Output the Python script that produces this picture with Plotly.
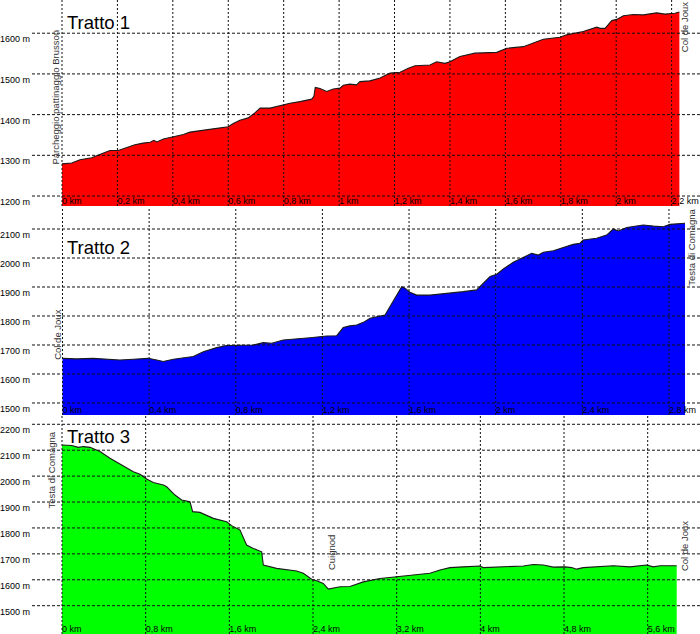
import plotly.graph_objects as go

# ---------------- data ----------------
km1 = [0, 0.035, 0.065, 0.107, 0.143, 0.173, 0.203, 0.239, 0.263, 0.293, 0.318, 0.332, 0.342, 0.366, 0.402,
       0.438, 0.462, 0.498, 0.546, 0.600, 0.618, 0.642, 0.672, 0.697, 0.715, 0.751, 0.787, 0.823, 0.859, 0.901,
       0.909, 0.914, 0.931, 0.955, 0.979, 1.003, 1.015, 1.039, 1.063, 1.075, 1.111, 1.148, 1.184, 1.220, 1.250,
       1.274, 1.328, 1.352, 1.382, 1.400, 1.436, 1.490, 1.569, 1.605, 1.665, 1.701, 1.737, 1.797, 1.821, 1.881,
       1.930, 1.942, 1.960, 1.984, 2.002, 2.026, 2.062, 2.098, 2.146, 2.176, 2.212, 2.228]
ele1 = [1279, 1281, 1289, 1294, 1304, 1312, 1312, 1320, 1326, 1330, 1332, 1337, 1333, 1340, 1346,
        1351, 1357, 1361, 1365, 1370, 1378, 1386, 1392, 1405, 1416, 1416, 1422, 1428, 1432, 1438,
        1445, 1467, 1464, 1457, 1463, 1465, 1472, 1475, 1473, 1481, 1483, 1490, 1502, 1504, 1514,
        1520, 1522, 1530, 1526, 1530, 1543, 1551, 1553, 1563, 1567, 1577, 1585, 1590, 1596, 1604,
        1615, 1612, 1612, 1631, 1634, 1643, 1646, 1645, 1650, 1647, 1649, 1652]

km2 = [0, 0.065, 0.142, 0.204, 0.265, 0.327, 0.396, 0.435, 0.465, 0.512, 0.558, 0.604, 0.650, 0.712, 0.758,
       0.820, 0.881, 0.927, 0.966, 1.019, 1.081, 1.143, 1.220, 1.266, 1.296, 1.327, 1.358, 1.389, 1.420, 1.451,
       1.489, 1.566, 1.581, 1.604, 1.635, 1.697, 1.789, 1.850, 1.912, 1.943, 1.974, 2.005, 2.035, 2.081, 2.127,
       2.166, 2.197, 2.220, 2.266, 2.312, 2.358, 2.389, 2.404, 2.466, 2.512, 2.543, 2.566, 2.605, 2.681, 2.728,
       2.774, 2.805, 2.874]
ele2 = [1654, 1652, 1654, 1652, 1648, 1651, 1654, 1648, 1643, 1651, 1656, 1660, 1677, 1691, 1698,
        1700, 1700, 1708, 1706, 1717, 1720, 1725, 1731, 1732, 1760, 1766, 1769, 1778, 1792, 1798,
        1803, 1901, 1896, 1882, 1872, 1872, 1878, 1884, 1890, 1913, 1936, 1944, 1962, 1985, 2002,
        2016, 2010, 2020, 2025, 2036, 2047, 2051, 2062, 2068, 2079, 2100, 2093, 2105, 2114, 2110,
        2108, 2116, 2120]

km3 = [0, 0.092, 0.156, 0.204, 0.268, 0.363, 0.459, 0.554, 0.682, 0.746, 0.809, 0.873, 0.969, 1.001, 1.080,
       1.144, 1.224, 1.249, 1.319, 1.447, 1.574, 1.622, 1.702, 1.765, 1.829, 1.909, 1.925, 2.052, 2.148, 2.243,
       2.307, 2.387, 2.435, 2.498, 2.546, 2.594, 2.658, 2.753, 2.881, 3.040, 3.200, 3.327, 3.518, 3.614, 3.710,
       3.837, 3.996, 4.028, 4.187, 4.315, 4.411, 4.506, 4.602, 4.698, 4.809, 4.873, 4.920, 4.984, 5.112, 5.271,
       5.430, 5.590, 5.654, 5.717, 5.877]
ele3 = [2120, 2118, 2111, 2114, 2111, 2095, 2069, 2046, 2017, 2007, 1989, 1975, 1966, 1959, 1927,
        1908, 1901, 1863, 1860, 1837, 1824, 1809, 1792, 1734, 1721, 1708, 1657, 1644, 1638, 1634,
        1625, 1602, 1596, 1586, 1564, 1567, 1573, 1574, 1592, 1605, 1612, 1616, 1625, 1638, 1647,
        1650, 1653, 1647, 1650, 1654, 1653, 1659, 1657, 1649, 1650, 1647, 1641, 1647, 1650, 1654,
        1650, 1657, 1650, 1654, 1654]

titles = ["Tratto 1", "Tratto 2", "Tratto 3"]

xt1 = [0, 0.2, 0.4, 0.6, 0.8, 1.0, 1.2, 1.4, 1.6, 1.8, 2.0, 2.2]
xl1 = ["0 km", "0,2 km", "0,4 km", "0,6 km", "0,8 km", "1 km", "1,2 km", "1,4 km", "1,6 km", "1,8 km", "2 km", "2,2 km"]
xt2 = [0, 0.4, 0.8, 1.2, 1.6, 2.0, 2.4, 2.8]
xl2 = ["0 km", "0,4 km", "0,8 km", "1,2 km", "1,6 km", "2 km", "2,4 km", "2,8 km"]
xt3 = [0, 0.8, 1.6, 2.4, 3.2, 4.0, 4.8, 5.6]
xl3 = ["0 km", "0,8 km", "1,6 km", "2,4 km", "3,2 km", "4 km", "4,8 km", "5,6 km"]

yt1 = [1200, 1300, 1400, 1500, 1600]
yt2 = [1500, 1600, 1700, 1800, 1900, 2000, 2100]
yt3 = [1500, 1600, 1700, 1800, 1900, 2000, 2100, 2200]

# waypoint labels: (panel, km, elevation, text)
wp_panel = [1, 1, 2, 2, 3, 3, 3]
wp_km = [-0.022, 2.245, -0.021, 2.905, -0.099, 2.572, 5.947]
wp_ele = [1444, 1615, 1735, 2038, 2024, 1703, 1730]
wp_text = ["Parcheggio pattinaggio Brusson", "Col de Joux", "Col de Joux", "Testa di Comagna",
           "Testa di Comagna", "Cuignod", "Col de Joux"]

# ---------------- styling / layout ----------------
FONT = "Liberation Sans, Arial, sans-serif"
fills = ["#ff0000", "#0000ff", "#00ff00"]
xranges = [[-0.10826, 2.30242], [-0.14081, 2.94321], [-0.28683, 6.10001]]
yranges = [[1175.5, 1681.6], [1458.6, 2172.4], [1390.8, 2232.0]]
ydomains = [[1 - 206 / 634, 1.0], [1 - 415 / 634, 1 - 208 / 634], [0.0, 1 - 416 / 634]]
title_y = [0.891, 0.810, 0.907]

fig = go.Figure()
series = [(km1, ele1), (km2, ele2), (km3, ele3)]
xticks = [(xt1, xl1), (xt2, xl2), (xt3, xl3)]
yticks = [yt1, yt2, yt3]

layout = dict(
    width=700, height=634,
    margin=dict(l=32, r=0, t=0, b=0, autoexpand=False),
    paper_bgcolor="white", plot_bgcolor="white",
    showlegend=False,
    font=dict(family=FONT, size=9, color="black"),
)
shapes = []
annotations = []
for i in range(3):
    n = "" if i == 0 else str(i + 1)
    xs, ys = series[i]
    fig.add_trace(go.Scatter(
        x=xs, y=ys, mode="lines", fill="tozeroy", fillcolor=fills[i],
        line=dict(color="#1a1a1a", width=1.1),
        xaxis="x" + n, yaxis="y" + n, hoverinfo="skip",
    ))
    tv, tt = xticks[i]
    layout["xaxis" + n] = dict(
        domain=[0, 1], anchor="y" + n, range=xranges[i],
        tickvals=tv, ticktext=tt, ticklabelposition="inside right",
        ticklabelstandoff=-6, ticklabeloverflow="allow",
        showgrid=False, zeroline=False, showline=False, ticks="",
        automargin=False,
        tickfont=dict(family=FONT, size=9, color="black"), fixedrange=True,
    )
    layout["yaxis" + n] = dict(
        domain=ydomains[i], anchor="x" + n, range=yranges[i],
        tickvals=yticks[i], ticktext=[f"{v} m" for v in yticks[i]],
        showgrid=False, zeroline=False, showline=False, ticks="",
        ticklabelshift=6, ticklabelstandoff=1, automargin=False,
        ticklabeloverflow="allow",
        tickfont=dict(family=FONT, size=9, color="black"), fixedrange=True,
    )
    # dashed grid drawn above the filled profile
    for v in tv:
        shapes.append(dict(type="line", xref="x" + n, yref="y" + n + " domain",
                           x0=v, x1=v, y0=0, y1=1, layer="above",
                           line=dict(color="#111", width=1, dash="2px,2px")))
    for v in yticks[i]:
        shapes.append(dict(type="line", xref="x" + n + " domain", yref="y" + n,
                           x0=0, x1=1, y0=v, y1=v, layer="above",
                           line=dict(color="#111", width=1, dash="3px,2px")))
    annotations.append(dict(
        text=titles[i], xref="x" + n + " domain", yref="y" + n + " domain",
        x=0.0494, y=title_y[i], xanchor="left", yanchor="middle", showarrow=False,
        font=dict(family=FONT, size=18.5, color="black"),
    ))

for p, k, e, t in zip(wp_panel, wp_km, wp_ele, wp_text):
    n = "" if p == 1 else str(p)
    annotations.append(dict(
        text=t, x=k, y=e, xref="x" + n, yref="y" + n, showarrow=False,
        textangle=-90, xanchor="center", yanchor="middle",
        font=dict(family=FONT, size=9.5, color="#333"),
    ))

layout["shapes"] = shapes
layout["annotations"] = annotations
fig.update_layout(**layout)
fig.write_html(
    "out.html",
    config={"displayModeBar": False},
    post_script="document.body.style.margin='0';document.body.style.padding='0';"
                "document.documentElement.style.overflow='hidden';",
)
